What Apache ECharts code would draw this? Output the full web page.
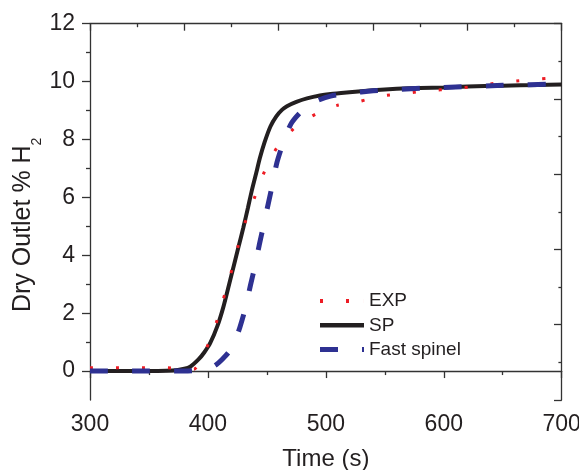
<!DOCTYPE html>
<html>
<head>
<meta charset="utf-8">
<script src="https://cdn.jsdelivr.net/npm/echarts@6/dist/echarts.min.js"></script>
<style>
html,body{margin:0;padding:0;background:#fff;}
#chart{width:579px;height:470px;}
</style>
</head>
<body>
<div id="chart"></div>
<script>
// ---- data ----
var expTime = [300,322,344,366,388,398,406,412.4,418.3,424,429.7,437.3,444.4,452.3,461.9,475.5,491.5,509,528,546,567,587,608,628,648,669,688,700];
var expVal  = [0.11,0.11,0.11,0.11,0.06,0.72,1.53,2.4,3.2,4.07,4.93,5.74,6.54,7.29,7.92,8.47,8.88,9.17,9.31,9.5,9.59,9.69,9.74,9.85,9.97,10.05,10.11,10.12];

var spTime = [300,340,370,380,385,392,397,402,408,413,418,422,426,430,434,437,441,444,448,453,458,463,467,475,484,495,504,520,540,560,580,600,620,650,680,700];
var spVal  = [0,0,0.02,0.08,0.15,0.4,0.65,0.97,1.55,2.2,3.0,3.65,4.3,4.95,5.65,6.2,6.85,7.35,7.9,8.45,8.8,9.03,9.15,9.3,9.42,9.52,9.57,9.63,9.7,9.75,9.78,9.8,9.83,9.86,9.88,9.9];

var fsTime = [300,350,380,395,402,407,412,418,423,427,431.6,436,440,443.5,447,451,455,458.5,464,471,482,492,504,520,540,560,600,650,700];
var fsVal  = [0,0,0,0.03,0.1,0.22,0.4,0.67,1.05,1.5,2.15,2.95,3.65,4.35,5.0,5.75,6.5,7.2,7.9,8.58,9.08,9.33,9.5,9.6,9.68,9.73,9.8,9.87,9.92];

var seriesNames = ['EXP', 'SP', 'Fast spinel'];
var yMajorTicks = [0,2,4,6,8,10,12];
var yMinorTicks = [1,3,5,7,9,11];

function pairs(t, v) { return t.map(function (x, i) { return [x, v[i]]; }); }

var FONT = 'Liberation Sans, Arial, Helvetica, sans-serif';
var TXT = '#231F20';
var AX = '#333333';

// legend sample glyphs (dotted / solid / dashed), 44 x 5 box
var legendIcons = [
  'path://M0,0.5H3V4.5H0Z M26,0.5H29V4.5H26Z M43.98,0H44V5H43.98Z',
  'path://M0,0.3H44V4.7H0Z',
  'path://M0,0H18V5H0Z M42,0H44V5H42Z'
];

var chart = echarts.init(document.getElementById('chart'), null, {renderer: 'canvas'});
chart.setOption({
  animation: false,
  backgroundColor: '#ffffff',
  textStyle: {fontFamily: FONT, color: TXT},
  grid: {left: 90, right: 17.3, top: 23.7, bottom: 70, containLabel: false, outerBoundsMode: 'none'},
  legend: {
    show: true,
    orient: 'vertical',
    left: 320,
    top: 291,
    padding: 0,
    itemWidth: 44,
    itemHeight: 5,
    itemGap: 4.3,
    data: seriesNames.map(function (n, i) { return {name: n, icon: legendIcons[i]}; }),
    textStyle: {fontFamily: FONT, fontSize: 19, color: TXT, lineHeight: 20}
  },
  xAxis: [{
    type: 'value', position: 'bottom', min: 300, max: 700, interval: 100,
    name: 'Time (s)', nameLocation: 'middle', nameGap: 47,
    nameMoveOverlap: false,
    nameTextStyle: {fontFamily: FONT, fontSize: 24, color: TXT},
    axisLine: {show: true, lineStyle: {color: AX, width: 1.3}},
    axisTick: {show: true, inside: false, length: 7, lineStyle: {color: AX, width: 1.3}},
    minorTick: {show: true, splitNumber: 2, length: 4, lineStyle: {color: AX, width: 1.3}},
    axisLabel: {fontFamily: FONT, fontSize: 23, color: TXT, margin: 13},
    splitLine: {show: false}
  }, {
    type: 'value', position: 'top', min: 0, max: 5, interval: 1,
    axisLine: {show: true, onZero: false, lineStyle: {color: AX, width: 1.3}},
    axisTick: {show: true, inside: true, length: 7, lineStyle: {color: AX, width: 1.3}},
    minorTick: {show: true, splitNumber: 2, length: 3.5, lineStyle: {color: AX, width: 1.3}},
    axisLabel: {show: false},
    splitLine: {show: false}
  }],
  yAxis: [{
    type: 'value', position: 'left', min: -1, max: 12, interval: 1,
    name: '{m|Dry Outlet % H}{s|2}', nameLocation: 'middle', nameGap: 54,
    nameMoveOverlap: false,
    nameTextStyle: {
      fontFamily: FONT, color: TXT, padding: [0, 26, 0, 0],
      rich: {
        m: {fontFamily: FONT, fontSize: 25, lineHeight: 25, color: TXT, verticalAlign: 'top'},
        s: {fontFamily: FONT, fontSize: 14, lineHeight: 14, color: TXT, verticalAlign: 'top', padding: [19, 0, 0, 0]}
      }
    },
    axisLine: {show: true, onZero: false, lineStyle: {color: AX, width: 1.3}},
    axisTick: {show: true, inside: false, length: 8, customValues: yMajorTicks, lineStyle: {color: AX, width: 1.3}},
    axisLabel: {fontFamily: FONT, fontSize: 23, color: TXT, margin: 15, customValues: yMajorTicks},
    splitLine: {show: false}
  }, {
    type: 'value', position: 'left', min: -1, max: 12, interval: 1,
    axisLine: {show: false},
    axisTick: {show: true, inside: false, length: 4, customValues: yMinorTicks, lineStyle: {color: AX, width: 1.3}},
    axisLabel: {show: false},
    splitLine: {show: false}
  }, {
    type: 'value', position: 'right', min: 0, max: 5, interval: 1,
    axisLine: {show: true, onZero: false, lineStyle: {color: AX, width: 1.3}},
    axisTick: {show: true, inside: true, length: 7.7, lineStyle: {color: AX, width: 1.3}},
    minorTick: {show: true, splitNumber: 2, length: 3.3, lineStyle: {color: AX, width: 1.3}},
    axisLabel: {show: false},
    splitLine: {show: false}
  }],
  series: [{
    name: seriesNames[0], type: 'line', xAxisIndex: 0, yAxisIndex: 0,
    data: pairs(expTime, expVal), symbol: 'none', smooth: 0.2, z: 3,
    lineStyle: {color: '#ED1C24', width: 3, type: [3, 23], cap: 'butt'},
    itemStyle: {color: '#ED1C24'}
  }, {
    name: seriesNames[1], type: 'line', xAxisIndex: 0, yAxisIndex: 0,
    data: pairs(spTime, spVal), symbol: 'none', smooth: 0.25, z: 2,
    lineStyle: {color: '#231F20', width: 4},
    itemStyle: {color: '#231F20'}
  }, {
    name: seriesNames[2], type: 'line', xAxisIndex: 0, yAxisIndex: 0,
    data: pairs(fsTime, fsVal), symbol: 'none', smooth: 0.25, z: 4,
    lineStyle: {color: '#2E3192', width: 5, type: [18, 24], cap: 'butt'},
    itemStyle: {color: '#2E3192'}
  }]
});
</script>
</body>
</html>
